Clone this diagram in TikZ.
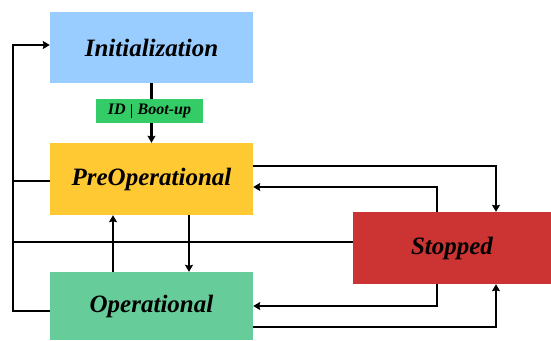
\documentclass[tikz,border=0pt]{standalone}
\usepackage{fontspec}
\setmainfont{Liberation Serif}
\usepackage{xcolor}
\usepackage{tikz}
\usetikzlibrary{arrows.meta, positioning}
\definecolor{initblue}{HTML}{99CCFF}
\definecolor{preyellow}{HTML}{FFC933}
\definecolor{opgreen}{HTML}{66CC99}
\definecolor{stopred}{HTML}{CC3333}
\definecolor{bootgreen}{HTML}{33CC66}
\tikzset{
    statenode/.style = {rectangle, draw=none, inner sep = 0em, minimum width=203pt, minimum height=71pt,
      font=\fontsize{25}{28}\selectfont\bfseries\itshape},
    bootnode/.style = {rectangle, draw=none, fill=bootgreen, inner sep = 0em, minimum width=107pt,
      minimum height=24pt, font=\fontsize{16}{18}\selectfont\bfseries\itshape},
    connect/.style = {black, line width=2.8pt, -{Stealth[length=7pt, width=8pt, inset=1pt]}},
    busline/.style = {black, line width=2.8pt},
    every text node part/.style={align=center}
}
\begin{document}
\begin{tikzpicture}[x=1pt, y=-1pt]
    \useasboundingbox (0,0) rectangle (551,340);

    \node [name=init, statenode, fill=initblue] at (151.5,47.5) {Initialization};
    \node [name=preop, statenode, fill=preyellow, minimum height=72pt] at (151.5,179) {PreOperational};
    \node [name=oper, statenode, fill=opgreen, minimum height=68pt] at (151.5,306) {Operational};
    \node [name=stopped, statenode, fill=stopred, minimum width=198pt, minimum height=72pt] at (452,248) {Stopped};

    \coordinate (bustop) at (13,45);

    \draw [connect] (init) -- (preop);
    \node [name=boot, bootnode] at (149.5,111) {ID\hspace{5pt}{\vrule width 1pt height 10pt depth 4pt}\hspace{6pt}Boot-up};

    \draw [connect] ([yshift=-5pt]oper.west) -| (bustop) -- ([yshift=2.5pt]init.west);
    \draw [busline] ([yshift=-2pt]preop.west) -- ([yshift=-2pt]preop.west -| bustop);
    \coordinate (stopin) at ([yshift=6pt]stopped.west);
    \draw [busline] (stopin) -- (stopin -| bustop);

    \draw [connect] ([xshift=-38.5pt]oper.north) -- ([xshift=-38.5pt]preop.south);
    \draw [connect] ([xshift=37.5pt]preop.south) -- ([xshift=37.5pt]oper.north);

    \draw [connect] ([yshift=13pt]preop.east) -| ([xshift=44pt]stopped.north);
    \draw [connect] ([xshift=-15pt]stopped.north) |- ([yshift=-8pt]preop.east);
    \draw [connect] ([xshift=-15pt]stopped.south) |- (oper.east);
    \draw [connect] ([yshift=-21pt]oper.east) -| ([xshift=44pt]stopped.south);
\end{tikzpicture}
\end{document}
